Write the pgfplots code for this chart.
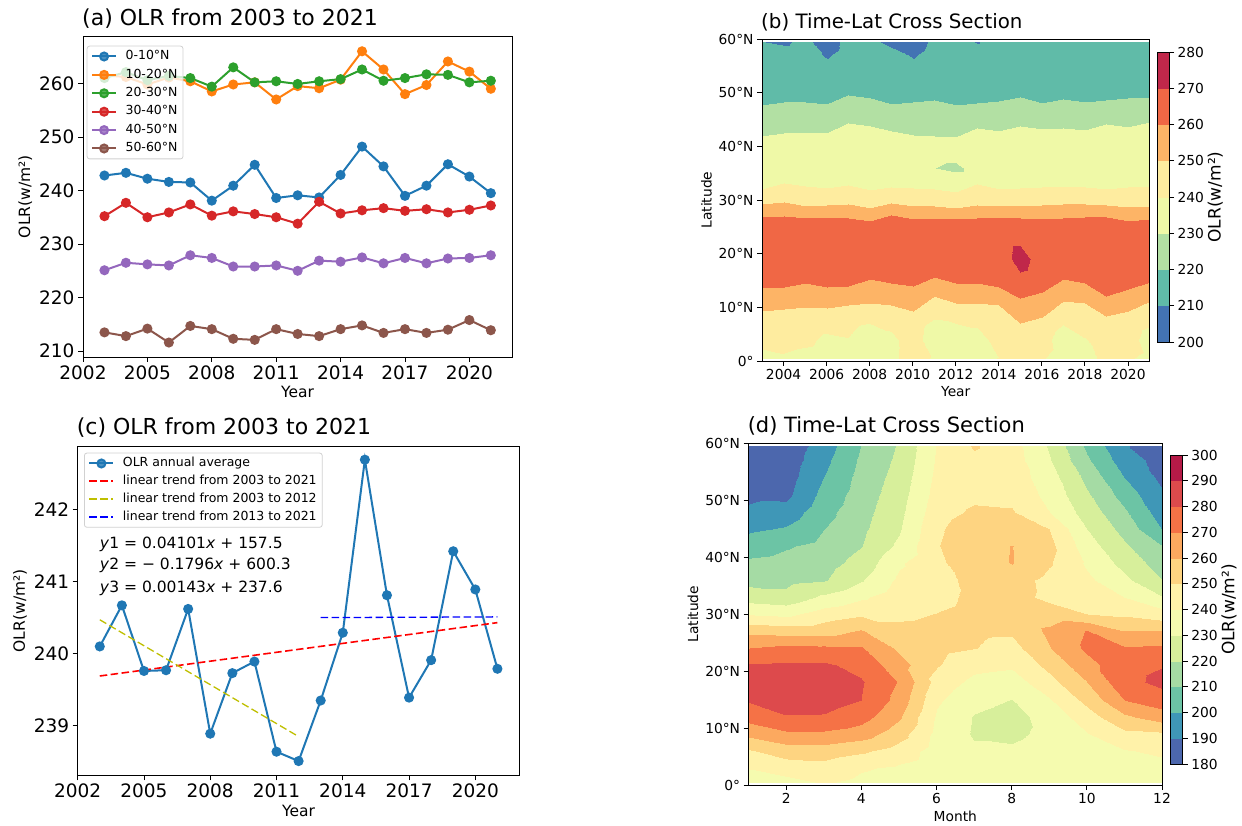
\documentclass[border=0pt]{standalone}
\usepackage{fontspec}
\setmainfont{DejaVu Sans}
\usepackage{pgfplots}
\pgfplotsset{compat=1.18}
\definecolor{c0}{HTML}{1F77B4}
\definecolor{c1}{HTML}{FF7F0E}
\definecolor{c2}{HTML}{2CA02C}
\definecolor{c3}{HTML}{D62728}
\definecolor{c4}{HTML}{9467BD}
\definecolor{c5}{HTML}{8C564B}
\definecolor{ylw}{rgb}{0.75,0.75,0}
\newcommand{\fs}[1]{\fontsize{#1}{#1}\selectfont}
\pgfplotsset{
  mpl/.style={
    scale only axis,
    axis line style={black, line width=0.9pt},
    tick align=outside, tick pos=left,
    major tick length=5pt,
    tick style={black, line width=0.9pt},
    /pgf/number format/assume math mode=true,
    /pgf/number format/1000 sep={},
    title style={at={(0,1)}, anchor=base west, yshift=5pt, inner xsep=0pt, xshift=-1pt},
  },
  legend image code/.code={\draw[mark repeat=2,mark phase=2,#1] plot coordinates {(0pt,0pt) (12pt,0pt) (24pt,0pt)};},
  mpllegend/.style={legend cell align=left,
    legend style={draw=black!18, line width=0.8pt,
    rounded corners=2.5pt, fill=white, fill opacity=0.8, text opacity=1, draw opacity=1,
    font=\fs{12.5}, inner xsep=4pt, inner ysep=3pt, row sep=3.6pt,
    /tikz/every odd column/.append style={column sep=7pt},
    nodes={inner sep=1.5pt, text height=9.2pt, text depth=2.6pt}}},
  cbar/.style={
    scale only axis,
    colormap access=piecewise constant,
    axis line style={black, line width=0.8pt},
    tick align=outside, major tick length=5pt,
    tick style={black, line width=0.8pt},
    ytick pos=right, yticklabel pos=right,
    ylabel near ticks, ylabel shift=-3pt,
    /pgf/number format/assume math mode=true,
    tick label style={font=\fs{13.8}},
    ylabel style={font=\fs{17}},
    ylabel={OLR(w/m²)},
  },
}
\begin{document}
\begin{tikzpicture}
\useasboundingbox (0,0) rectangle (1242pt,825pt);

% ---------------- (a)
\begin{axis}[mpl, mpllegend, at={(83pt,468pt)}, anchor=south west, width=429.3pt, height=320.7pt,
  xmin=2002, xmax=2022, ymin=208.9, ymax=268.8,
  xtick={2002,2005,...,2020}, ytick={210,220,...,260},
  tick label style={font=\fs{18.5}},
  xlabel={Year}, ylabel={OLR(w/m²)}, label style={font=\fs{15.5}},
  title={(a) OLR from 2003 to 2021}, title style={font=\fs{22}},
  legend style={at={(0.0086,0.9707)}, anchor=north west},
  every axis plot/.append style={line width=2pt, mark=*, mark size=4pt, mark options={solid}},
]
\addplot[c0, mark options={fill=c0}] coordinates {(2003,242.8) (2004,243.3) (2005,242.2) (2006,241.6) (2007,241.5) (2008,238.1) (2009,240.9) (2010,244.8) (2011,238.6) (2012,239.1) (2013,238.7) (2014,242.9) (2015,248.2) (2016,244.5) (2017,239.0) (2018,240.9) (2019,244.9) (2020,242.6) (2021,239.5)};
\addlegendentry{0-10°N}
\addplot[c1, mark options={fill=c1}] coordinates {(2003,261.5) (2004,261.2) (2005,259.8) (2006,261.1) (2007,260.4) (2008,258.5) (2009,259.8) (2010,260.2) (2011,257.0) (2012,259.5) (2013,259.1) (2014,260.7) (2015,266.0) (2016,262.6) (2017,258.0) (2018,259.7) (2019,264.1) (2020,262.2) (2021,259.0)};
\addlegendentry{10-20°N}
\addplot[c2, mark options={fill=c2}] coordinates {(2003,261.0) (2004,262.1) (2005,260.6) (2006,261.4) (2007,261.0) (2008,259.4) (2009,263.0) (2010,260.2) (2011,260.4) (2012,259.9) (2013,260.4) (2014,260.8) (2015,262.6) (2016,260.5) (2017,261.0) (2018,261.7) (2019,261.6) (2020,260.2) (2021,260.5)};
\addlegendentry{20-30°N}
\addplot[c3, mark options={fill=c3}] coordinates {(2003,235.2) (2004,237.7) (2005,235.0) (2006,235.9) (2007,237.4) (2008,235.3) (2009,236.1) (2010,235.6) (2011,235.0) (2012,233.8) (2013,237.9) (2014,235.7) (2015,236.3) (2016,236.7) (2017,236.2) (2018,236.5) (2019,235.9) (2020,236.4) (2021,237.2)};
\addlegendentry{30-40°N}
\addplot[c4, mark options={fill=c4}] coordinates {(2003,225.1) (2004,226.5) (2005,226.2) (2006,226.0) (2007,227.9) (2008,227.4) (2009,225.8) (2010,225.8) (2011,226.0) (2012,225.0) (2013,226.9) (2014,226.7) (2015,227.5) (2016,226.4) (2017,227.4) (2018,226.4) (2019,227.3) (2020,227.4) (2021,227.9)};
\addlegendentry{40-50°N}
\addplot[c5, mark options={fill=c5}] coordinates {(2003,213.5) (2004,212.8) (2005,214.2) (2006,211.6) (2007,214.7) (2008,214.1) (2009,212.3) (2010,212.1) (2011,214.1) (2012,213.2) (2013,212.8) (2014,214.1) (2015,214.8) (2016,213.4) (2017,214.1) (2018,213.4) (2019,214.0) (2020,215.8) (2021,213.9)};
\addlegendentry{50-60°N}
\end{axis}

% ---------------- (c)
\begin{axis}[mpl, mpllegend, at={(77.7pt,49.5pt)}, anchor=south west, width=441.8pt, height=329.5pt,
  xmin=2002, xmax=2022, ymin=238.31, ymax=242.88,
  xtick={2002,2005,...,2020}, ytick={239,240,241,242},
  tick label style={font=\fs{18.5}},
  xlabel={Year}, ylabel={OLR(w/m²)}, label style={font=\fs{15.5}},
  title={(c) OLR from 2003 to 2021}, title style={font=\fs{22}},
  legend style={at={(0.0143,0.9797)}, anchor=north west, row sep=3pt},
]
\addplot[c0, line width=2pt, mark=*, mark size=4pt, mark options={solid, fill=c0}] coordinates {(2003,240.10) (2004,240.67) (2005,239.76) (2006,239.77) (2007,240.62) (2008,238.89) (2009,239.73) (2010,239.89) (2011,238.64) (2012,238.51) (2013,239.35) (2014,240.29) (2015,242.69) (2016,240.81) (2017,239.39) (2018,239.91) (2019,241.42) (2020,240.89) (2021,239.79)};
\addlegendentry{OLR annual average}
\addplot[red, line width=1.6pt, dash pattern=on 7.5pt off 3.5pt] coordinates {(2003,239.69) (2021,240.43)};
\addlegendentry{linear trend from 2003 to 2021}
\addplot[ylw, line width=1.3pt, dash pattern=on 7.5pt off 3.5pt] coordinates {(2003,240.47) (2012,238.85)};
\addlegendentry{linear trend from 2003 to 2012}
\addplot[blue, line width=1.3pt, dash pattern=on 7.5pt off 3.5pt] coordinates {(2013,240.50) (2021,240.51)};
\addlegendentry{linear trend from 2013 to 2021}
\node[anchor=west, font=\fs{15.5}, inner sep=0pt] at (axis cs:2003,241.52) {\textit{y}1 = 0.04101\textit{x} + 157.5};
\node[anchor=west, font=\fs{15.5}, inner sep=0pt] at (axis cs:2003,241.22) {\textit{y}2 = − 0.1796\textit{x} + 600.3};
\node[anchor=west, font=\fs{15.5}, inner sep=0pt] at (axis cs:2003,240.90) {\textit{y}3 = 0.00143\textit{x} + 237.6};
\end{axis}

% ---------------- (b)
\begin{axis}[mpl, at={(762pt,464pt)}, anchor=south west, width=387.5pt, height=322pt,
  xmin=2003, xmax=2021, ymin=0, ymax=60,
  xtick={2004,2006,...,2020}, ytick={0,10,...,60},
  yticklabels={0°,10°N,20°N,30°N,40°N,50°N,60°N},
  tick label style={font=\fs{13.8}},
  xlabel={Year}, ylabel={Latitude}, label style={font=\fs{13.8}},
  title={(b) Time-Lat Cross Section}, title style={font=\fs{19.8}},
  axis on top,
  colormap={specb}{rgb255=(67,115,179) rgb255=(96,187,168) rgb255=(178,224,163) rgb255=(239,249,167) rgb255=(254,236,159) rgb255=(253,180,102) rgb255=(240,103,69) rgb255=(192,39,74)},
  colormap access=piecewise constant,
  point meta min=200, point meta max=280,
  colorbar,
  colorbar style={cbar, at={(parent axis.north east)}, anchor=north west, xshift=-1pt, yshift=-13pt,
    width=12pt, height=290pt, ytick={200,210,...,280}},
]
\addplot[surf, shader=interp, mesh/cols=19, point meta=explicit] coordinates {
(2003,0.5)[236] (2004,0.5)[238.5] (2005,0.5)[236] (2006,0.5)[235] (2007,0.5)[235] (2008,0.5)[234] (2009,0.5)[237] (2010,0.5)[246] (2011,0.5)[238.5] (2012,0.5)[235] (2013,0.5)[238] (2014,0.5)[240.3] (2015,0.5)[246] (2016,0.5)[241] (2017,0.5)[235] (2018,0.5)[238] (2019,0.5)[241.6] (2020,0.5)[241] (2021,0.5)[237.7]
(2003,4)[243.8] (2004,4)[244.3] (2005,4)[242.7] (2006,4)[237.6] (2007,4)[239.1] (2008,4)[232.0] (2009,4)[236.6] (2010,4)[247] (2011,4)[230.9] (2012,4)[232.0] (2013,4)[234.7] (2014,4)[245] (2015,4)[247] (2016,4)[245] (2017,4)[233.7] (2018,4)[239.2] (2019,4)[245] (2020,4)[245] (2021,4)[234.6]
(2003,9.3)[250] (2004,9.6)[250] (2005,10.1)[250] (2006,9.9)[250] (2007,10.4)[250] (2008,10.8)[250] (2009,10.5)[250] (2010,9.4)[250] (2011,12.2)[250] (2012,10.8)[250] (2013,10.8)[250] (2014,10.4)[250] (2015,7.1)[250] (2016,8.2)[250] (2017,11.2)[250] (2018,10.8)[250] (2019,8.4)[250] (2020,9.4)[250] (2021,11.1)[250]
(2003,13.6)[260] (2004,13.8)[260] (2005,14.6)[260] (2006,13.8)[260] (2007,14.0)[260] (2008,15.2)[260] (2009,14.6)[260] (2010,14.0)[260] (2011,15.7)[260] (2012,14.6)[260] (2013,14.6)[260] (2014,13.8)[260] (2015,11.8)[260] (2016,12.9)[260] (2017,15.2)[260] (2018,14.6)[260] (2019,12.2)[260] (2020,13.5)[260] (2021,14.8)[260]
(2003,19)[265] (2004,19)[265] (2005,19)[265] (2006,19)[265] (2007,19)[265] (2008,19)[265] (2009,19)[265] (2010,19)[265] (2011,19)[265] (2012,19)[265] (2013,19)[265] (2014,19)[263] (2015,19)[275] (2016,19)[264] (2017,19)[265] (2018,19)[265] (2019,19)[265] (2020,19)[265] (2021,19)[265]
(2003,26.9)[260] (2004,27.0)[260] (2005,26.7)[260] (2006,26.7)[260] (2007,26.7)[260] (2008,26.0)[260] (2009,27.2)[260] (2010,26.5)[260] (2011,26.5)[260] (2012,26.4)[260] (2013,26.7)[260] (2014,26.7)[260] (2015,26.7)[260] (2016,26.5)[260] (2017,26.7)[260] (2018,26.9)[260] (2019,26.8)[260] (2020,26.1)[260] (2021,26.5)[260]
(2003,29.2)[250] (2004,29.7)[250] (2005,28.8)[250] (2006,29.0)[250] (2007,29.2)[250] (2008,28.5)[250] (2009,29.5)[250] (2010,28.9)[250] (2011,28.9)[250] (2012,28.5)[250] (2013,29.0)[250] (2014,28.9)[250] (2015,28.9)[250] (2016,29.0)[250] (2017,29.2)[250] (2018,29.2)[250] (2019,29.0)[250] (2020,28.7)[250] (2021,28.9)[250]
(2003,32.1)[240] (2004,33.1)[240] (2005,32.6)[240] (2006,32.3)[240] (2007,32.8)[240] (2008,31.8)[240] (2009,32.4)[240] (2010,32.3)[240] (2011,32.1)[240] (2012,31.5)[240] (2013,32.9)[240] (2014,32.0)[240] (2015,32.3)[240] (2016,32.4)[240] (2017,32.4)[240] (2018,32.4)[240] (2019,32.1)[240] (2020,32.4)[240] (2021,32.6)[240]
(2003,34)[238] (2004,34)[238] (2005,34)[238] (2006,34)[238] (2007,34)[238] (2008,34)[238] (2009,34)[238] (2010,34)[238] (2011,34)[238] (2012,34)[238] (2013,34)[238] (2014,34)[238] (2015,34)[238] (2016,34)[238] (2017,34)[238] (2018,34)[238] (2019,34)[238] (2020,34)[238] (2021,34)[238]
(2003,36)[236] (2004,36)[236] (2005,36)[236] (2006,36)[236] (2007,36)[236] (2008,36)[236] (2009,36)[236] (2010,36)[236] (2011,36)[230.3] (2012,36)[225.5] (2013,36)[239] (2014,36)[236] (2015,36)[236] (2016,36)[236] (2017,36)[236] (2018,36)[236] (2019,36)[236] (2020,36)[236] (2021,36)[236]
(2003,38)[235] (2004,38)[235] (2005,38)[235] (2006,38)[235] (2007,38)[235] (2008,38)[235] (2009,38)[235] (2010,38)[235] (2011,38)[235] (2012,38)[235] (2013,38)[235] (2014,38)[235] (2015,38)[235] (2016,38)[235] (2017,38)[235] (2018,38)[235] (2019,38)[235] (2020,38)[235] (2021,38)[235]
(2003,41.9)[230] (2004,42.5)[230] (2005,42.4)[230] (2006,42.4)[230] (2007,44.3)[230] (2008,43.8)[230] (2009,42.9)[230] (2010,42.1)[230] (2011,42.0)[230] (2012,41.8)[230] (2013,43.5)[230] (2014,42.8)[230] (2015,43.8)[230] (2016,43.3)[230] (2017,43.5)[230] (2018,43.0)[230] (2019,44.1)[230] (2020,43.6)[230] (2021,44.6)[230]
(2003,47.7)[220] (2004,48.3)[220] (2005,48.3)[220] (2006,47.9)[220] (2007,49.5)[220] (2008,49.0)[220] (2009,47.8)[220] (2010,48.3)[220] (2011,48.6)[220] (2012,47.7)[220] (2013,48.0)[220] (2014,48.5)[220] (2015,49.1)[220] (2016,48.0)[220] (2017,48.8)[220] (2018,48.3)[220] (2019,48.7)[220] (2020,49.0)[220] (2021,49.2)[220]
(2003,57)[213] (2004,57)[213] (2005,57)[213] (2006,57)[209.2] (2007,57)[213] (2008,57)[213] (2009,57)[213] (2010,57)[209.2] (2011,57)[213] (2012,57)[213] (2013,57)[213] (2014,57)[213] (2015,57)[213] (2016,57)[213] (2017,57)[213] (2018,57)[213] (2019,57)[213] (2020,57)[213] (2021,57)[213]
(2003,59.5)[210.2] (2004,59.5)[209] (2005,59.5)[212] (2006,59.5)[206] (2007,59.5)[212.7] (2008,59.5)[212] (2009,59.5)[208] (2010,59.5)[206] (2011,59.5)[211.7] (2012,59.5)[212] (2013,59.5)[209.7] (2014,59.5)[212] (2015,59.5)[212] (2016,59.5)[212] (2017,59.5)[212] (2018,59.5)[212] (2019,59.5)[212] (2020,59.5)[212] (2021,59.5)[212]
};
\end{axis}

% ---------------- (d)
\begin{axis}[mpl, at={(748.6pt,40pt)}, anchor=south west, width=413.4pt, height=341.7pt,
  xmin=1, xmax=12, ymin=0, ymax=60,
  xtick={2,4,...,12}, ytick={0,10,...,60},
  yticklabels={0°,10°N,20°N,30°N,40°N,50°N,60°N},
  tick label style={font=\fs{13.8}},
  xlabel={Month}, ylabel={Latitude}, label style={font=\fs{13.8}},
  title={(d) Time-Lat Cross Section}, title style={font=\fs{21}},
  axis on top,
  colormap={specd}{rgb255=(76,103,173) rgb255=(63,151,183) rgb255=(108,196,165) rgb255=(165,219,164) rgb255=(215,239,155) rgb255=(245,251,175) rgb255=(255,242,169) rgb255=(254,212,129) rgb255=(252,169,95) rgb255=(245,114,70) rgb255=(221,74,76) rgb255=(181,26,71)},
  colormap access=piecewise constant,
  point meta min=180, point meta max=300,
  colorbar,
  colorbar style={cbar, at={(parent axis.north east)}, anchor=north west, xshift=-0.5pt, yshift=-11.7pt,
    width=12.7pt, height=309pt, ytick={180,190,...,300}},
]
\addplot[surf, shader=interp, mesh/cols=12, point meta=explicit] coordinates {
(1,0.5)[236] (2,0.5)[237] (3,0.5)[241] (4,0.5)[238] (5,0.5)[236] (6,0.5)[234] (7,0.5)[233.5] (8,0.5)[234] (9,0.5)[235] (10,0.5)[236] (11,0.5)[235] (12,0.5)[235]
(1,3)[240.3] (2,3)[244.5] (3,3)[246] (4,3)[241] (5,3)[238.5] (6,3)[234.5] (7,3)[233] (8,3)[233.5] (9,3)[235.5] (10,3)[236.5] (11,3)[237] (12,3)[237]
(1,6)[248.9] (2,6)[254.8] (3,6)[255.2] (4,6)[251.6] (5,6)[245.7] (6,6)[235.5] (7,6)[231.5] (8,6)[231.5] (9,6)[235] (10,6)[237.5] (11,6)[239.3] (12,6)[241.7]
(1,9)[262.6] (2,9)[268.1] (3,9)[268.1] (4,9)[265] (5,9)[254.3] (6,9)[237] (7,9)[229] (8,9)[228] (9,9)[232.5] (10,9)[239.5] (11,9)[247.5] (12,9)[248.8]
(1,12)[274] (2,12)[279.3] (3,12)[279] (4,12)[274] (5,12)[261.5] (6,12)[238.5] (7,12)[229.5] (8,12)[227] (9,12)[233.5] (10,12)[245.5] (11,12)[258] (12,12)[265]
(1,15)[281] (2,15)[285] (3,15)[284.5] (4,15)[280] (5,15)[266.5] (6,15)[241.5] (7,15)[232.5] (8,15)[229.8] (9,15)[239] (10,15)[253] (11,15)[270] (12,15)[275.7]
(1,18)[285] (2,18)[286.5] (3,18)[285.5] (4,18)[281] (5,18)[269.3] (6,18)[246] (7,18)[237.5] (8,18)[235.5] (9,18)[246.5] (10,18)[260] (11,18)[277] (12,18)[282.5]
(1,21)[281.2] (2,21)[281.4] (3,21)[281.5] (4,21)[277] (5,21)[264] (6,21)[250.8] (7,21)[243] (8,21)[241.5] (9,21)[253] (10,21)[266.5] (11,21)[276.5] (12,21)[279.5]
(1,24)[270] (2,24)[272.2] (3,24)[271.9] (4,24)[271] (5,24)[258] (6,24)[253] (7,24)[250.3] (8,24)[246.5] (9,24)[259.5] (10,24)[272] (11,24)[271] (12,24)[271.6]
(1,27)[257.3] (2,27)[255.6] (3,27)[256] (4,27)[260.9] (5,27)[252] (6,27)[252.5] (7,27)[252] (8,27)[251.5] (9,27)[262] (10,27)[270.5] (11,27)[260] (12,27)[260]
(1,30)[239.2] (2,30)[237.5] (3,30)[244.6] (4,30)[248.3] (5,30)[248.5] (6,30)[250.2] (7,30)[252] (8,30)[253] (9,30)[254] (10,30)[250] (11,30)[248] (12,30)[244.2]
(1,33)[225.3] (2,33)[223.2] (3,33)[231.9] (4,33)[238.3] (5,33)[245.5] (6,33)[248] (7,33)[251.5] (8,33)[253] (9,33)[248] (10,33)[246] (11,33)[240] (12,33)[230.5]
(1,36)[216.6] (2,36)[217.1] (3,36)[219.1] (4,36)[229] (5,36)[242] (6,36)[247.5] (7,36)[252] (8,36)[254] (9,36)[247.5] (10,36)[242] (11,36)[232.5] (12,36)[220]
(1,39)[211.8] (2,39)[213.3] (3,39)[216] (4,39)[223.7] (5,39)[238.5] (6,39)[248.5] (7,39)[254.5] (8,39)[260.4] (9,39)[251] (10,39)[238.5] (11,39)[226.7] (12,39)[215.1]
(1,42)[205.4] (2,42)[209] (3,42)[212.9] (4,42)[219.6] (5,42)[232] (6,42)[249.5] (7,42)[256.5] (8,42)[260.2] (9,42)[253] (10,42)[234.5] (11,42)[221.7] (12,42)[210.2]
(1,45)[198.3] (2,45)[201] (3,45)[209.9] (4,45)[217.9] (5,45)[228.9] (6,45)[248.5] (7,45)[256] (8,45)[256.5] (9,45)[250] (10,45)[230] (11,45)[216.7] (12,45)[199.7]
(1,48)[191.7] (2,48)[194.2] (3,48)[206.6] (4,48)[216.3] (5,48)[227.2] (6,48)[246] (7,48)[251.5] (8,48)[250.8] (9,48)[240.2] (10,48)[225.5] (11,48)[211.7] (12,48)[194.8]
(1,51)[188] (2,51)[187.6] (3,51)[203.3] (4,51)[214.8] (5,51)[225.5] (6,51)[244] (7,51)[248] (8,51)[247.5] (9,51)[237] (10,51)[221.5] (11,51)[206] (12,51)[191.4]
(1,54)[186] (2,54)[185.5] (3,54)[200.1] (4,54)[213.2] (5,54)[223.8] (6,54)[242.5] (7,54)[247] (8,54)[245.5] (9,54)[234.5] (10,54)[217] (11,54)[200] (12,54)[187.6]
(1,57)[184] (2,57)[184] (3,57)[197.3] (4,57)[211.6] (5,57)[222.1] (6,57)[241.3] (7,57)[248] (8,57)[244.5] (9,57)[231] (10,57)[211.5] (11,57)[195] (12,57)[186]
(1,59.5)[183] (2,59.5)[183] (3,59.5)[195] (4,59.5)[210.1] (5,59.5)[221] (6,59.5)[240.6] (7,59.5)[251] (8,59.5)[244] (9,59.5)[229] (10,59.5)[208] (11,59.5)[190.8] (12,59.5)[185]
};
\end{axis}
\end{tikzpicture}
\end{document}
